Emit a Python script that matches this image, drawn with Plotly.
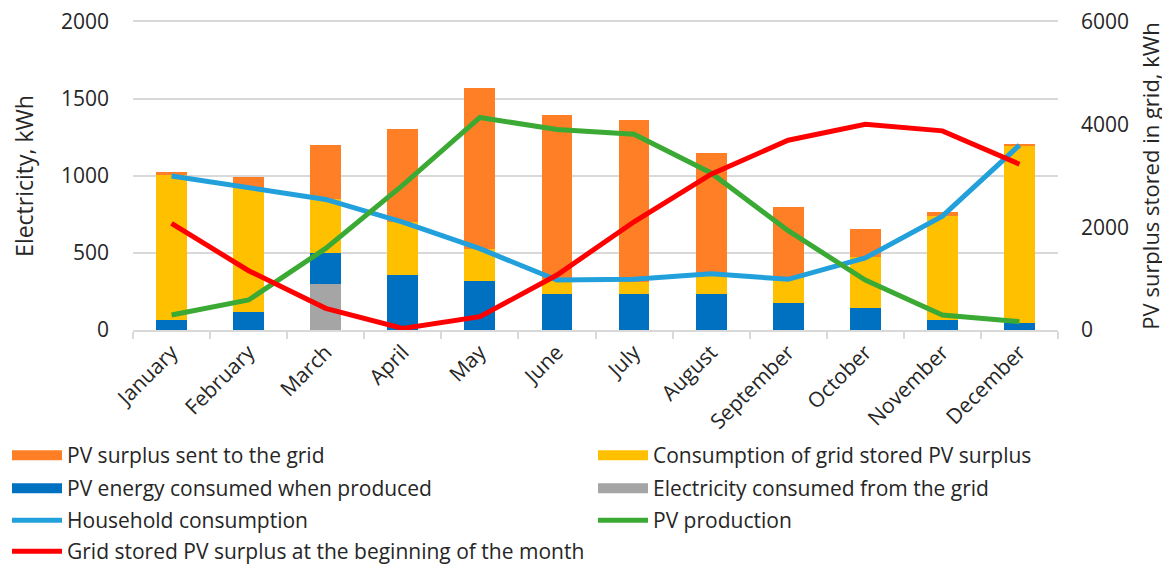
import plotly.graph_objects as go

months = ["January", "February", "March", "April", "May", "June", "July",
          "August", "September", "October", "November", "December"]

# stacked bars (kWh, left axis)
grid_consumed = [0, 0, 300, 0, 0, 0, 0, 0, 0, 0, 0, 0]
pv_self_consumed = [65, 115, 200, 357, 318, 234, 234, 234, 173, 141, 65, 48]
stored_consumed = [940, 805, 348, 343, 205, 95, 76, 129, 162, 330, 674, 1152]
surplus_sent = [22, 75, 356, 602, 1051, 1066, 1052, 789, 461, 184, 26, 6]

# lines
household = [1000, 920, 848, 700, 528, 324, 329, 365, 329, 468, 739, 1200]
pv_production = [97, 195, 530, 941, 1380, 1302, 1271, 1020, 645, 324, 97, 54]
grid_stored = [2076, 1155, 422, 30, 259, 1070, 2108, 3036, 3697, 4009, 3879, 3230]

C_ORANGE = "#FE7F25"
C_YELLOW = "#FFC000"
C_BLUE = "#0070C0"
C_GRAY = "#A5A5A5"
C_HOUSE = "#22A0DB"
C_GREEN = "#3BAA34"
C_RED = "#FF0000"
FONT = "Open Sans, Arial, sans-serif"
TXT = "#262626"

fig = go.Figure()

# bars (stack order bottom -> top)
for name, vals, col in [
    ("Electricity consumed from the grid", grid_consumed, C_GRAY),
    ("PV energy consumed when produced", pv_self_consumed, C_BLUE),
    ("Consumption of grid stored PV surplus", stored_consumed, C_YELLOW),
    ("PV surplus sent to the grid", surplus_sent, C_ORANGE),
]:
    fig.add_trace(go.Bar(x=months, y=vals, name=name, marker=dict(color=col, line=dict(width=0)),
                         showlegend=False, yaxis="y"))

fig.add_trace(go.Scatter(x=months, y=household, mode="lines", name="Household consumption",
                         line=dict(color=C_HOUSE, width=5), showlegend=False, yaxis="y"))
fig.add_trace(go.Scatter(x=months, y=pv_production, mode="lines", name="PV production",
                         line=dict(color=C_GREEN, width=5), showlegend=False, yaxis="y"))
fig.add_trace(go.Scatter(x=months, y=grid_stored, mode="lines",
                         name="Grid stored PV surplus at the beginning of the month",
                         line=dict(color=C_RED, width=5), showlegend=False, yaxis="y2"))

# legend entries: one legend per entry, laid out in two columns
COL1_X, COL2_X = -0.1362, 0.4973
ROW_Y = [-0.3409, -0.4481, -0.5520, -0.6526]
legend_items = [
    ("PV surplus sent to the grid", C_ORANGE, 11, COL1_X, ROW_Y[0]),
    ("Consumption of grid stored PV surplus", C_YELLOW, 11, COL2_X, ROW_Y[0]),
    ("PV energy consumed when produced", C_BLUE, 11, COL1_X, ROW_Y[1]),
    ("Electricity consumed from the grid", C_GRAY, 11, COL2_X, ROW_Y[1]),
    ("Household consumption", C_HOUSE, 5, COL1_X, ROW_Y[2]),
    ("PV production", C_GREEN, 5, COL2_X, ROW_Y[2]),
    ("Grid stored PV surplus at the beginning of the month", C_RED, 5, COL1_X, ROW_Y[3]),
]
legend_layouts = {}
for i, (name, col, w, lx, ly) in enumerate(legend_items):
    key = "legend" if i == 0 else f"legend{i + 1}"
    fig.add_trace(go.Scatter(x=[None], y=[None], mode="lines", name=name,
                             line=dict(color=col, width=w), legend=key, showlegend=True,
                             hoverinfo="skip"))
    legend_layouts[key] = dict(orientation="v", font=dict(family=FONT, size=21, color=TXT),
                               bgcolor="rgba(0,0,0,0)", borderwidth=0, itemwidth=50,
                               xanchor="left", yanchor="top", x=lx, y=ly)

# page body has an 8px margin -> figure sized/offset to fill the 1170x568 window
fig.update_layout(
    width=1162, height=560,
    margin=dict(l=125, r=112, t=14, b=238, autoexpand=False),
    paper_bgcolor="white", plot_bgcolor="white",
    barmode="stack", bargap=0.6,
    font=dict(family=FONT, color=TXT),
    xaxis=dict(type="category", range=[-0.5, 11.5], tickson="boundaries",
               ticks="outside", ticklen=7, tickcolor="#D9D9D9", tickwidth=1.5,
               showline=True, linecolor="#D9D9D9", linewidth=1.5, mirror=True,
               tickangle=-45, tickfont=dict(family=FONT, size=21, color=TXT),
               showgrid=False, automargin=False),
    yaxis=dict(range=[0, 2000], dtick=500, showgrid=True, gridcolor="#D9D9D9", gridwidth=1.5,
               zeroline=False, ticks="", ticklabelstandoff=23, ticklabeloverflow="allow",
               tickfont=dict(family=FONT, size=21, color=TXT),
               title=dict(text="Electricity, kWh", font=dict(family=FONT, size=23, color=TXT),
                          standoff=32),
               automargin=False),
    yaxis2=dict(range=[0, 6000], dtick=2000, overlaying="y", side="right", showgrid=False,
                zeroline=False, ticks="", ticklabelstandoff=22, ticklabeloverflow="allow",
                tickfont=dict(family=FONT, size=21, color=TXT),
                title=dict(text="PV surplus stored in grid, kWh",
                           font=dict(family=FONT, size=22, color=TXT), standoff=15),
                automargin=False),
    **legend_layouts,
)

fig.write_html("out.html")
